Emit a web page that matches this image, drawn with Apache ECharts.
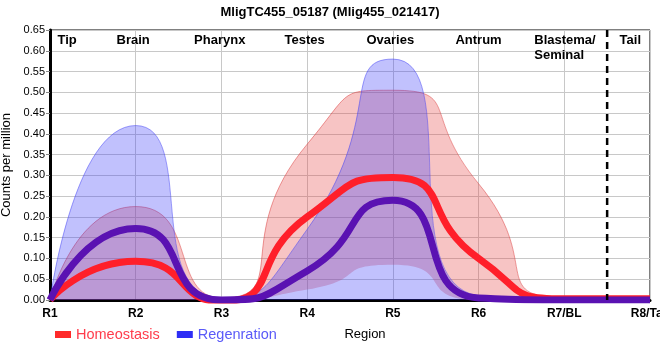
<!DOCTYPE html>
<html><head><meta charset="utf-8">
<script src="https://cdn.jsdelivr.net/npm/echarts@6/dist/echarts.min.js"></script>
<style>html,body{margin:0;padding:0;background:#fff}#c{width:660px;height:360px}</style>
</head><body><div id="c"></div>
<script>
var categories = ['R1','R2','R3','R4','R5','R6','R7/BL','R8/Tail'];
var regionLabels = ['Tip','Brain','Pharynx','Testes','Ovaries','Antrum','Blastema/\nSeminal','Tail'];
var homeoMean  = [0.0, 0.093, -0.004, 0.20, 0.295, 0.10, 0.003, 0.003];
var homeoLower = [0.0, 0.0, 0.0, 0.025, 0.085, 0.0, 0.0, 0.0];
var homeoUpper = [0.0, 0.225, 0.005, 0.375, 0.505, 0.28, 0.006, 0.006];
var regenMean  = [0.0, 0.172, 0.0, 0.07, 0.24, 0.005, 0.0, 0.0];
var regenLower = [0.0, 0.0, 0.0, 0.0, 0.0, 0.0, 0.0, 0.0];
var regenUpper = [0.0, 0.42, 0.005, 0.17, 0.58, 0.01, 0.0, 0.0];
var yTicks = {min:0, max:0.65, interval:0.05};

function diff(a,b){ return a.map(function(v,i){return v-b[i];}); }

var chart = echarts.init(document.getElementById('c'), null, {renderer:'canvas'});
var FONT = 'Liberation Sans, Arial, sans-serif';
var smoothLine = 0.62;
var smoothBand = 0.72;
var option = {
  animation:false,
  textStyle:{fontFamily:FONT},
  title:{text:'MligTC455_05187 (Mlig455_021417)', left:'center', top:1,
    textStyle:{fontSize:13, fontWeight:'bold', color:'#000', fontFamily:FONT}},
  grid:{left:50, right:10, top:30, bottom:60, show:true, borderColor:'#000', borderWidth:1,
    backgroundColor:'transparent', outerBoundsMode:'none', containLabel:false},
  legend:{left:50, top:322, itemWidth:16, itemHeight:7, itemGap:17, icon:'rect',
    data:[{name:'Homeostasis', itemStyle:{color:'#ff2a2a'}, textStyle:{color:'#ff3b4b'}},
          {name:'Regenration', itemStyle:{color:'#2e2ef5'}, textStyle:{color:'#5a5af8'}}],
    textStyle:{fontSize:14.5, fontFamily:FONT}},
  xAxis:{type:'category', boundaryGap:false, data:categories,
    name:'Region', nameLocation:'middle', nameGap:28,
    nameTextStyle:{fontSize:13, color:'#000', padding:[0,0,0,30]},
    axisLine:{show:true, onZero:false, lineStyle:{color:'#000', width:3}},
    axisTick:{show:false},
    axisLabel:{color:'#000', fontSize:12, fontWeight:'bold', margin:8, interval:0},
    splitLine:{show:true, interval:0, lineStyle:{color:'#c8c8c8', width:1}}},
  yAxis:{type:'value', min:yTicks.min, max:yTicks.max, interval:yTicks.interval,
    name:'Counts per million', nameLocation:'middle', nameGap:35,
    nameTextStyle:{fontSize:13, color:'#000'},
    axisLine:{show:true, lineStyle:{color:'#000', width:3}},
    axisTick:{show:true, length:4, lineStyle:{color:'#888', width:1}},
    axisLabel:{color:'#000', fontSize:11, margin:5, formatter:function(v){return v.toFixed(2);}},
    splitLine:{show:true, lineStyle:{color:'#c8c8c8', width:1}}},
  series:[
    {type:'line', stack:'h', data:homeoLower, smooth:smoothBand, symbol:'none', lineStyle:{opacity:0}, silent:true, z:1},
    {type:'line', stack:'h', data:diff(homeoUpper,homeoLower), smooth:smoothBand, symbol:'none',
      lineStyle:{color:'rgba(220,60,60,0.5)', width:1}, areaStyle:{color:'rgba(230,70,70,0.45)'}, z:1},
    {type:'line', stack:'r', data:regenLower, smooth:smoothBand, symbol:'none', lineStyle:{opacity:0}, silent:true, z:2},
    {type:'line', stack:'r', data:diff(regenUpper,regenLower), smooth:smoothBand, symbol:'none',
      lineStyle:{color:'rgba(70,70,245,0.5)', width:1}, areaStyle:{color:'rgba(60,60,250,0.45)'}, z:2},
    {name:'Homeostasis', type:'line', data:homeoMean, smooth:smoothLine, symbol:'none',
      lineStyle:{color:'#ff1f2a', width:7}, itemStyle:{color:'#ff2a2a'}, z:3},
    {name:'Regenration', type:'line', data:regenMean, smooth:smoothLine, symbol:'none',
      lineStyle:{color:'#5a12b2', width:7}, itemStyle:{color:'#2e2ef5'}, z:4}
  ]
};
chart.setOption(option);
var labelX = [0.2, 0.97, 1.98, 2.97, 3.97, 5.0, 5.65, 6.77];
var x0 = chart.convertToPixel({xAxisIndex:0}, categories[0]);
var x1 = chart.convertToPixel({xAxisIndex:0}, categories[1]);
var step = x1 - x0;
var g = regionLabels.map(function(t,i){
  var lines = t.split('\n');
  return {type:'text', x:x0 + labelX[i]*step, y:33, z:100,
    style:{text:t, font:'bold 13px '+FONT, fill:'#000', align: lines.length>1?'left':'center', verticalAlign:'top', lineHeight:15}};
});
var xd = x0 + 6.5*step;
var yTop = chart.convertToPixel({yAxisIndex:0}, yTicks.max);
var yBot = chart.convertToPixel({yAxisIndex:0}, yTicks.min);
g.push({type:'line', z:100, shape:{x1:xd, y1:yTop, x2:xd, y2:yBot},
  style:{stroke:'#000', lineWidth:2.5, lineDash:[7,5]}});
chart.setOption({graphic:g});
</script></body></html>
